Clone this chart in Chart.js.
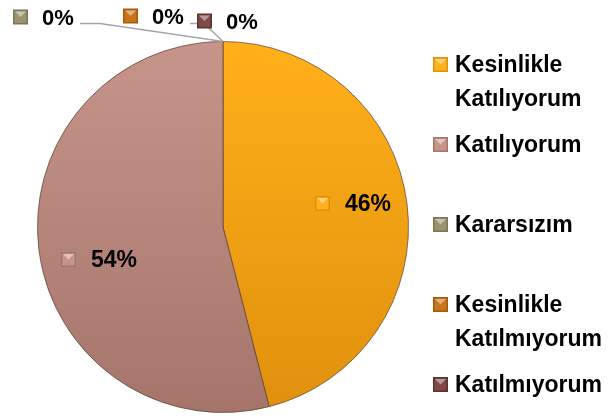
<!DOCTYPE html>
<html>
<head>
<meta charset="utf-8">
<script src="https://cdn.jsdelivr.net/npm/chart.js@4/dist/chart.umd.min.js"></script>
<style>
  html, body { margin: 0; padding: 0; background: #fff; }
  #wrap { width: 610px; height: 419px; position: relative; }
</style>
</head>
<body>
<div id="wrap"><canvas id="pieChart"></canvas></div>
<script>
// Datos del gráfico
const categories = [
    ['Kesinlikle', 'Katılıyorum'],
    ['Katılıyorum'],
    ['Kararsızım'],
    ['Kesinlikle', 'Katılmıyorum'],
    ['Katılmıyorum']
];
const values = [46, 54, 0, 0, 0];
const percentLabels = ['46%', '54%', '0%', '0%', '0%'];

const topColors = ['#FFB01A', '#C6958A', '#9A9270', '#C7741A', '#7D4A45'];
const bottomColors = ['#E0900C', '#A5756B', '#7D7555', '#A55A0C', '#5E332F'];

const FONT = '"Liberation Sans", "DejaVu Sans", sans-serif';

function gradientFor(ctx) {
    const chart = ctx.chart;
    const area = chart.chartArea;
    if (!area) return topColors[ctx.dataIndex];
    const g = chart.ctx.createLinearGradient(0, area.top, 0, area.bottom);
    g.addColorStop(0, topColors[ctx.dataIndex]);
    g.addColorStop(1, bottomColors[ctx.dataIndex]);
    return g;
}

// marcador cuadrado con brillo triangular
function drawMarker(ctx, x, y, i) {
    const s = 15;
    ctx.save();
    ctx.fillStyle = bottomColors[i];
    ctx.fillRect(x, y, s, s);
    ctx.fillStyle = topColors[i];
    ctx.fillRect(x + 1.5, y + 1.5, s - 3, s - 3);
    ctx.fillStyle = 'rgba(255,255,255,0.45)';
    ctx.beginPath();
    ctx.moveTo(x + 2, y + 2);
    ctx.lineTo(x + s - 2, y + 2);
    ctx.lineTo(x + s / 2, y + s / 2);
    ctx.closePath();
    ctx.fill();
    ctx.restore();
}

// Etiquetas de datos y leyenda propia
const labelPlugin = {
    id: 'labelPlugin',
    afterDatasetsDraw(chart) {
        const ctx = chart.ctx;
        const meta = chart.getDatasetMeta(0);
        ctx.save();
        ctx.textBaseline = 'middle';
        ctx.fillStyle = '#000';

        // offsets para las etiquetas de 0% (arriba a la izquierda)
        const zeroOffsets = [[-210, -24, true], [-100, -25, false], [-26, -20, true]];
        let z = 0;
        meta.data.forEach((arc, i) => {
            if (values[i] > 0) {
                ctx.font = 'bold 23px ' + FONT;
                const mid = (arc.startAngle + arc.endAngle) / 2;
                const r = arc.outerRadius * 0.69;
                const cx = arc.x + Math.cos(mid) * r + 3;
                const cy = arc.y + Math.sin(mid) * r + (Math.sin(mid) > 0 ? 17 : -7);
                drawMarker(ctx, cx - 38, cy - 8, i);
                ctx.textAlign = 'left';
                ctx.fillText(percentLabels[i], cx - 8, cy + 1);
            } else {
                ctx.font = 'bold 22px ' + FONT;
                const px = arc.x + Math.cos(arc.startAngle) * arc.outerRadius;
                const py = arc.y + Math.sin(arc.startAngle) * arc.outerRadius;
                const [dx, dy, line] = zeroOffsets[z++];
                const mx = px + dx, my = py + dy;
                if (line) {
                    ctx.strokeStyle = '#A6A6A6';
                    ctx.lineWidth = 1.5;
                    ctx.beginPath();
                    const lx = z === 1 ? mx + 67 : mx - 7;
                    ctx.moveTo(lx, py - 18);
                    ctx.lineTo(lx + (z === 1 ? 20 : 14), py - 18);
                    ctx.lineTo(px, py);
                    ctx.stroke();
                }
                drawMarker(ctx, mx, my - 8, i);
                ctx.textAlign = 'left';
                ctx.fillText(percentLabels[i], mx + 29, my + 1);
            }
        });

        // leyenda
        ctx.font = 'bold 23px ' + FONT;
        categories.forEach((lines, i) => {
            const y = 65 + i * 80;
            drawMarker(ctx, 433, y - 8, i);
            lines.forEach((t, k) => {
                ctx.fillText(t, 455, y + k * 34 + 1);
            });
        });
        ctx.restore();
    }
};

new Chart(document.getElementById('pieChart'), {
    type: 'pie',
    data: {
        labels: categories.map(c => c.join(' ')),
        datasets: [{
            data: values,
            backgroundColor: gradientFor,
            borderColor: 'rgba(90,60,50,0.7)',
            borderWidth: 1,
        }]
    },
    options: {
        responsive: true,
        maintainAspectRatio: false,
        animation: false,
        layout: {
            padding: { left: 37, right: 201, top: 41, bottom: 6 }
        },
        plugins: {
            legend: { display: false },
            tooltip: { enabled: false }
        }
    },
    plugins: [labelPlugin]
});
</script>
</body>
</html>
